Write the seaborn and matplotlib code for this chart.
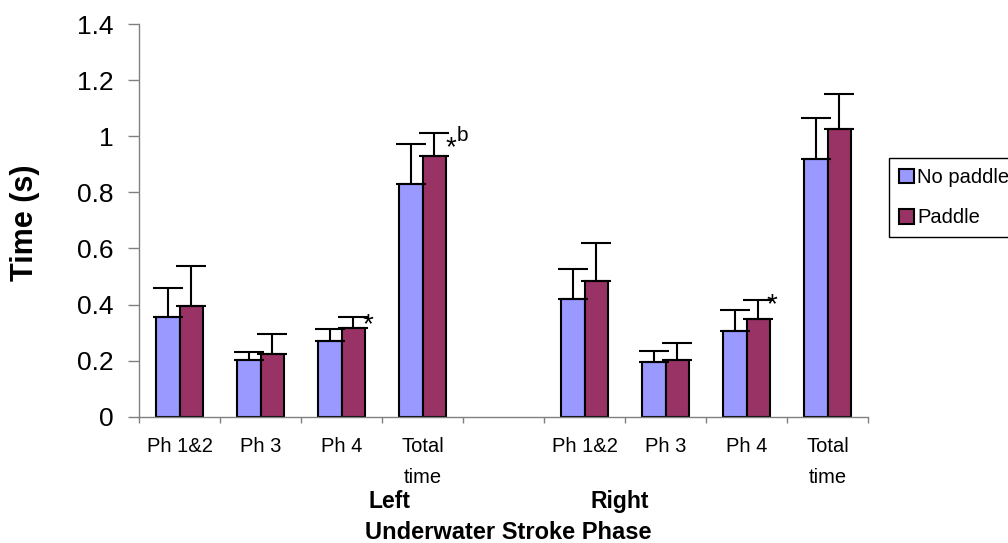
import numpy as np
import pandas as pd
import matplotlib
matplotlib.use("Agg")
import matplotlib.pyplot as plt
from matplotlib.patches import Patch
import seaborn as sns

# ---------------- data ----------------
phases = ["Ph 1&2", "Ph 3", "Ph 4", "Total\ntime"]
sides = ["Left", "Right"]
conditions = ["No paddle", "Paddle"]

no_paddle_left = [0.357, 0.203, 0.269, 0.830]
paddle_left = [0.396, 0.223, 0.316, 0.930]
no_paddle_right = [0.418, 0.195, 0.304, 0.917]
paddle_right = [0.485, 0.201, 0.350, 1.025]

no_paddle_left_sd = [0.102, 0.026, 0.042, 0.141]
paddle_left_sd = [0.143, 0.072, 0.040, 0.082]
no_paddle_right_sd = [0.107, 0.041, 0.075, 0.147]
paddle_right_sd = [0.135, 0.061, 0.067, 0.127]

y_ticks = [0, 0.2, 0.4, 0.6, 0.8, 1.0, 1.2, 1.4]
y_tick_labels = ["0", "0.2", "0.4", "0.6", "0.8", "1", "1.2", "1.4"]

colors = ["#9999FF", "#993366"]
AXIS_GREY = "#808080"

# ---------------- build table ----------------
left_keys = ["L" + str(i) for i in range(len(phases))]
right_keys = ["R" + str(i) for i in range(len(phases))]
order = left_keys + ["gap"] + right_keys
tick_labels = phases + [""] + phases

rows = []
means = {
    ("No paddle", "Left"): no_paddle_left, ("Paddle", "Left"): paddle_left,
    ("No paddle", "Right"): no_paddle_right, ("Paddle", "Right"): paddle_right,
}
sds = {
    ("No paddle", "Left"): no_paddle_left_sd, ("Paddle", "Left"): paddle_left_sd,
    ("No paddle", "Right"): no_paddle_right_sd, ("Paddle", "Right"): paddle_right_sd,
}
err_lookup = {}
for cond in conditions:
    for side, keys in zip(sides, [left_keys, right_keys]):
        for k, m, s in zip(keys, means[(cond, side)], sds[(cond, side)]):
            rows.append({"slot": k, "condition": cond, "time": m})
            err_lookup[(cond, k)] = s
df = pd.DataFrame(rows)

# ---------------- figure ----------------
sns.set_style("white")
plt.rcParams["font.family"] = ["Liberation Sans", "DejaVu Sans"]
plt.rcParams["text.color"] = "black"
plt.rcParams["xtick.color"] = "black"
plt.rcParams["ytick.color"] = "black"
plt.rcParams["xtick.labelcolor"] = "black"
plt.rcParams["ytick.labelcolor"] = "black"

W, H = 1008, 543
fig = plt.figure(figsize=(W / 100, H / 100), dpi=100)
ax = fig.add_axes([139 / W, 1 - 416.7 / H, (868 - 139) / W, (416.7 - 24) / H])

sns.barplot(data=df, x="slot", y="time", hue="condition", order=order,
            hue_order=conditions, palette=colors, width=0.59, errorbar=None,
            edgecolor="black", linewidth=1.5, saturation=1, legend=False, ax=ax)

bar_containers = list(ax.containers)

# error bars (upper only)
for ci, cont in enumerate(bar_containers):
    cond = conditions[ci]
    xs, hs, es = [], [], []
    for bar in cont:
        xc = bar.get_x() + bar.get_width() / 2
        idx = int(round(xc))
        xs.append(xc)
        hs.append(bar.get_height())
        es.append(err_lookup[(cond, order[idx])])
    ax.errorbar(xs, hs, yerr=[np.zeros(len(es)), es], fmt="none", ecolor="black",
                elinewidth=1.5, capsize=11, capthick=1.5, zorder=1)

# axes
ax.set_xlim(-0.5, len(order) - 0.5)
ax.set_ylim(0, 1.4)
ax.set_yticks(y_ticks)
ax.set_yticklabels(y_tick_labels, fontsize=19, color="black")
ax.tick_params(axis="y", direction="out", length=7.6, width=1, color=AXIS_GREY,
               pad=10.5, left=True, labelcolor="black")
major = np.arange(-0.5, len(order), 1.0)
ax.set_xticks(major)
ax.set_xticklabels([""] * len(major))
ax.set_xticks(np.arange(len(order)), minor=True)
ax.set_xticklabels(tick_labels, minor=True, fontsize=14.5, linespacing=1.8,
                   color="black")
ax.tick_params(axis="x", which="major", direction="out", length=4.5, width=1,
               color=AXIS_GREY, bottom=True)
ax.tick_params(axis="x", which="minor", length=0, pad=14.5, bottom=True,
               labelcolor="black")
ax.set_xlabel("")
ax.set_ylabel("")
for side in ["top", "right"]:
    ax.spines[side].set_visible(False)
for side in ["left", "bottom"]:
    ax.spines[side].set_color(AXIS_GREY)
    ax.spines[side].set_linewidth(1)

# significance markers
def mark(cond, key, text, dx, dy, size):
    ci = conditions.index(cond)
    for bar in bar_containers[ci]:
        xc = bar.get_x() + bar.get_width() / 2
        if order[int(round(xc))] == key:
            top = bar.get_height() + err_lookup[(cond, key)]
            ax.annotate(text, xy=(xc, top), xytext=(dx, dy), textcoords="offset pixels",
                        ha="center", va="baseline", fontsize=size, color="black")

mark("Paddle", "L2", "*", 14.5, -15.4, 20)
mark("Paddle", "R2", "*", 13.5, -12.4, 20)
mark("Paddle", "L3", "*", 16.5, -22, 20)
mark("Paddle", "L3", "b", 28, -8.6, 15)

# labels
fig.text(25 / W, 1 - 222.5 / H, "Time (s)", rotation=90, ha="center", va="center",
         fontsize=22, fontweight="bold")
fig.text(389 / W, 1 - 508.3 / H, sides[0], ha="center", va="baseline",
         fontsize=16.5, fontweight="bold")
fig.text(620 / W, 1 - 508.3 / H, sides[1], ha="center", va="baseline",
         fontsize=16.5, fontweight="bold")
fig.text(508 / W, 1 - 539.3 / H, "Underwater Stroke Phase", ha="center", va="baseline",
         fontsize=17, fontweight="bold")

# legend
handles = [Patch(facecolor=c, edgecolor="black", linewidth=1.5) for c in colors]
leg = fig.legend(handles, conditions, loc="upper left",
                 bbox_to_anchor=(889 / W, 1 - 158 / H), bbox_transform=fig.transFigure,
                 borderaxespad=0, fontsize=14.5, frameon=True, fancybox=False,
                 shadow=False, handlelength=0.75, handleheight=0.75,
                 handletextpad=0.15, borderpad=0.5, labelspacing=1.05)
leg.get_frame().set_edgecolor("black")
leg.get_frame().set_linewidth(1)
leg.get_frame().set_alpha(1)
for t in leg.get_texts():
    t.set_color("black")

fig.savefig("out.png", dpi=100)
